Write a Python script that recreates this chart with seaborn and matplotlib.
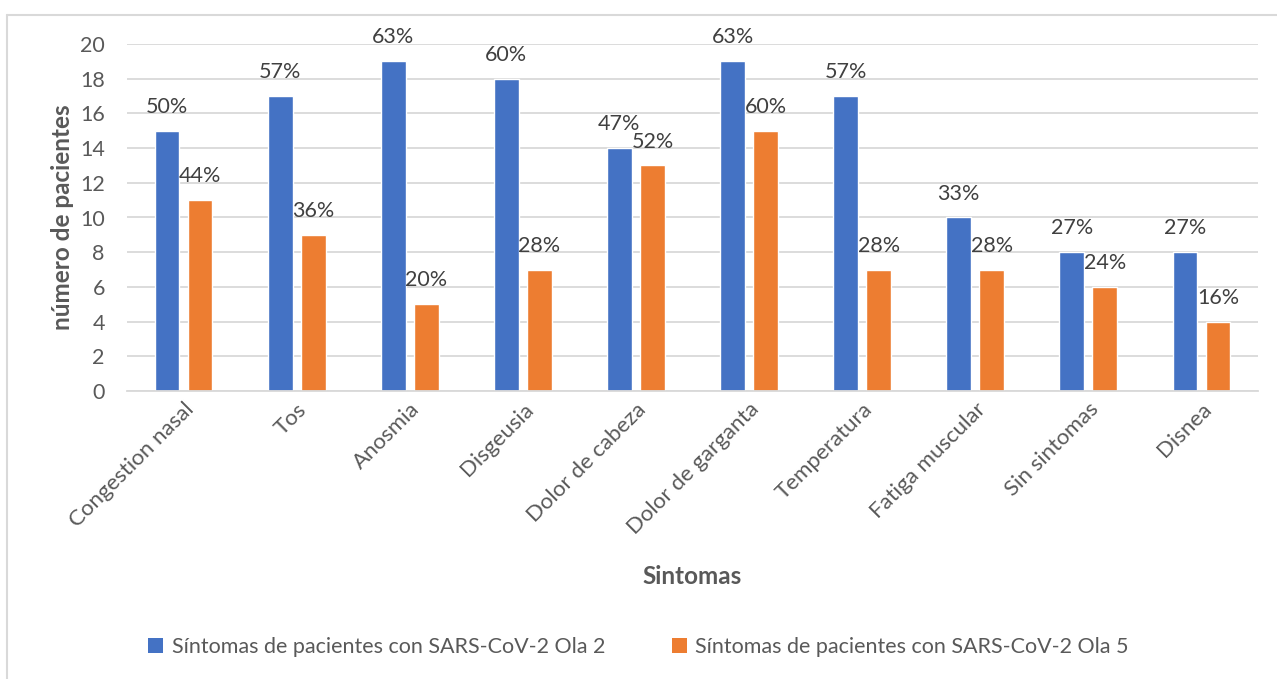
import matplotlib
matplotlib.use("Agg")
import matplotlib.pyplot as plt
import seaborn as sns
import pandas as pd
from matplotlib.lines import Line2D
from matplotlib.patches import Patch

categories = ["Congestion nasal", "Tos", "Anosmia", "Disgeusia", "Dolor de cabeza",
              "Dolor de garganta", "Temperatura", "Fatiga muscular", "Sin sintomas", "Disnea"]
ola2_values = [15, 17, 19, 18, 14, 19, 17, 10, 8, 8]
ola5_values = [11, 9, 5, 7, 13, 15, 7, 7, 6, 4]
ola2_labels = ["50%", "57%", "63%", "60%", "47%", "63%", "57%", "33%", "27%", "27%"]
ola5_labels = ["44%", "36%", "20%", "28%", "52%", "60%", "28%", "28%", "24%", "16%"]
series_names = ["Síntomas de pacientes con SARS-CoV-2 Ola 2",
                "Síntomas de pacientes con SARS-CoV-2 Ola 5"]
colors = ["#4472C4", "#ED7D31"]

df = pd.DataFrame({
    "Sintomas": categories * 2,
    "valor": ola2_values + ola5_values,
    "serie": [series_names[0]] * len(categories) + [series_names[1]] * len(categories),
})

sns.set_theme(style="white")
plt.rcParams["font.family"] = ["Lato", "DejaVu Sans"]

W, H = 1277, 679
fig = plt.figure(figsize=(W / 100, H / 100), dpi=100)
ax = fig.add_axes([127 / W, 1 - 391 / H, (1258 - 127) / W, (391 - 44) / H])

sns.barplot(data=df, x="Sintomas", y="valor", hue="serie", palette=colors,
            width=0.584, gap=0.25, ax=ax, legend=False, saturation=1)

ax.set_ylim(0, 20)
ax.set_xlim(-0.5, len(categories) - 0.5)
ax.set_yticks(range(0, 21, 2))
ax.yaxis.grid(True, color="#D9D9D9", linewidth=1.3)
ax.set_axisbelow(True)
for s in ["left", "right", "top"]:
    ax.spines[s].set_visible(False)
ax.spines["bottom"].set_color("#D9D9D9")
ax.spines["bottom"].set_linewidth(1.3)
ax.tick_params(axis="both", length=0, colors="#595959")
ax.tick_params(axis="y", pad=16, labelsize=15.5)
ax.tick_params(axis="x", pad=6, labelsize=16)
plt.setp(ax.get_xticklabels(), rotation=45, ha="right", rotation_mode="anchor")

for cont, labs in zip(ax.containers, [ola2_labels, ola5_labels]):
    ax.bar_label(cont, labels=labs, padding=10, fontsize=15.5, color="#404040")

ax.set_xlabel("Sintomas", fontsize=17.5, fontweight="bold", color="#595959")
ax.xaxis.label.set_va("center")
ax.xaxis.set_label_coords(0.5, (391 - 577) / (391 - 44))
ax.set_ylabel("número de pacientes", fontsize=17.5, fontweight="bold", color="#595959")
ax.yaxis.label.set_va("center")
ax.yaxis.set_label_coords((62 - 127) / (1258 - 127), 0.5)

handles = [Patch(facecolor=c, edgecolor="none") for c in colors]
fig.legend(handles, series_names, loc="center", bbox_to_anchor=(0.5, 1 - 647 / H),
           ncol=2, frameon=False, fontsize=15.5, labelcolor="#595959",
           handlelength=0.7, handleheight=0.7, handletextpad=0.4, columnspacing=3.1)

fig.add_artist(Line2D([7 / W, 1], [1 - 15 / H, 1 - 15 / H], color="#D9D9D9", lw=1.5))
fig.add_artist(Line2D([7 / W, 7 / W], [0, 1 - 15 / H], color="#D9D9D9", lw=1.5))

fig.savefig("out.png", dpi=100, facecolor="white")
